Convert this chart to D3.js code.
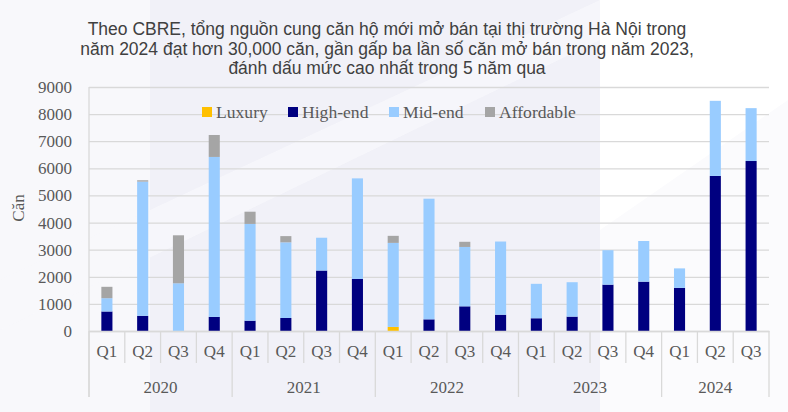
<!DOCTYPE html>
<html><head><meta charset="utf-8">
<script src="https://cdn.jsdelivr.net/npm/d3@7"></script>
<style>
html,body{margin:0;padding:0;background:#fff;}
svg{display:block;}
</style></head>
<body>
<svg id="chart" width="788" height="412"></svg>
<script>
const titleLines = [
  "Theo CBRE, tổng nguồn cung căn hộ mới mở bán tại thị trường Hà Nội trong",
  "năm 2024 đạt hơn 30,000 căn, gần gấp ba lần số căn mở bán trong năm 2023,",
  "đánh dấu mức cao nhất trong 5 năm qua"
];
const years = ["2020","2021","2022","2023","2024"];
const quarters = ["Q1","Q2","Q3","Q4","Q1","Q2","Q3","Q4","Q1","Q2","Q3","Q4","Q1","Q2","Q3","Q4","Q1","Q2","Q3"];
const yearOf = ["2020","2020","2020","2020","2021","2021","2021","2021","2022","2022","2022","2022","2023","2023","2023","2023","2024","2024","2024"];
const seriesNames = ["Luxury","High-end","Mid-end","Affordable"];
const luxury     = [0,0,0,0, 0,0,0,0, 150,0,0,0, 0,0,0,0, 0,0,0];
const highEnd    = [720,560,0,520, 380,480,2230,1920, 0,430,910,600, 470,530,1710,1820, 1590,5720,6270];
const midEnd     = [490,4950,1760,5900, 3570,2790,1210,3710, 3100,4450,2190,2700, 1270,1270,1270,1500, 720,2770,1950];
const affordable = [420,50,1770,810, 450,230,0,0, 260,0,190,0, 0,0,0,0, 0,0,0];
const yTicks = [0,1000,2000,3000,4000,5000,6000,7000,8000,9000];
const colors = ["#FFC000","#000080","#99CCFF","#A5A5A5"];

(function(){
const svg = d3.select("#chart");
const W = 788, H = 412;
const pL = 89, pR = 769, pT = 87, pB = 331;
const serif = "'Liberation Serif', 'Times New Roman', serif";
const textColor = "#595959";

// faint watermark background
const bg = svg.append("g");
bg.append("rect").attr("x",0).attr("y",0).attr("width",W).attr("height",H).attr("fill","#ffffff");
bg.append("rect").attr("x",150).attr("y",0).attr("width",450).attr("height",H).attr("fill","#f1f1f8");
bg.append("polygon").attr("points","0,0 150,0 150,412 0,412").attr("fill","#f8f8fb");
bg.append("polygon").attr("points","0,280 600,0 600,40 0,330").attr("fill","#f7f7fb").attr("opacity",0.8);
bg.append("polygon").attr("points","600,230 788,100 788,412 600,412").attr("fill","#fbfbfd");

const rows = quarters.map((q,i)=>({idx:String(i), q, year:yearOf[i],
  "Luxury":luxury[i], "High-end":highEnd[i], "Mid-end":midEnd[i], "Affordable":affordable[i]}));

const x = d3.scaleBand().domain(rows.map(d=>d.idx)).range([pL,pR]).paddingInner(0.69).paddingOuter(0.345);
const y = d3.scaleLinear().domain([0,9000]).range([pB,pT]);
const step = x.step();

const yAxis = svg.append("g").attr("transform",`translate(${pL},0)`)
  .call(d3.axisLeft(y).tickValues(yTicks).tickSize(-(pR-pL)).tickPadding(17).tickFormat(d3.format("d")));
yAxis.select(".domain").remove();
yAxis.selectAll(".tick line").attr("stroke","#d9d9d9").attr("stroke-width",1.3);
yAxis.selectAll(".tick text").attr("fill",textColor).style("font-family",serif).style("font-size","17px");

svg.append("line").attr("x1",pL).attr("x2",pL).attr("y1",pT).attr("y2",397)
  .attr("stroke","#d9d9d9").attr("stroke-width",1.3);

const stack = d3.stack().keys(seriesNames)(rows);
svg.append("g").selectAll("g").data(stack).join("g")
  .attr("fill",(d,i)=>colors[i])
  .selectAll("rect").data(d=>d).join("rect")
  .attr("x",d=>x(d.data.idx))
  .attr("width",x.bandwidth())
  .attr("y",d=>y(d[1]))
  .attr("height",d=>Math.max(0,y(d[0])-y(d[1])));

const xAxis = svg.append("g").attr("transform",`translate(0,${pB})`)
  .call(d3.axisBottom(x).tickSize(0).tickPadding(14).tickFormat((d,i)=>quarters[i]));
xAxis.select(".domain").attr("stroke","#d9d9d9").attr("stroke-width",1.5);
xAxis.selectAll(".tick text").attr("fill",textColor).style("font-family",serif).style("font-size","17px");

const sep = svg.append("g").attr("stroke","#d9d9d9").attr("stroke-width",1.3);
for (let i=0;i<=quarters.length;i++){
  const xx = pL + i*step;
  const isYear = (i===0 || i===quarters.length || yearOf[i]!==yearOf[i-1]);
  sep.append("line").attr("x1",xx).attr("x2",xx).attr("y1",pB).attr("y2",isYear?397:363);
}
years.forEach(yr=>{
  const idxs = rows.filter(r=>r.year===yr).map(r=>+r.idx);
  const cx = pL + (d3.min(idxs) + d3.max(idxs)+1)/2*step;
  svg.append("text").attr("x",cx).attr("y",393).attr("text-anchor","middle")
    .attr("fill",textColor).style("font-family",serif).style("font-size","17px").text(yr);
});

svg.append("text").attr("transform","translate(24,208) rotate(-90)").attr("text-anchor","middle")
  .attr("fill",textColor).style("font-family",serif).style("font-size","17px").text("Căn");

const legendX = [202,288,389,485];
const lg = svg.append("g");
seriesNames.forEach((s,i)=>{
  lg.append("rect").attr("x",legendX[i]).attr("y",107).attr("width",10).attr("height",10).attr("fill",colors[i]);
  lg.append("text").attr("x",legendX[i]+14).attr("y",118).attr("fill",textColor)
    .style("font-family",serif).style("font-size","17.6px").text(s);
});

svg.append("g").selectAll("text").data(titleLines).join("text")
  .attr("x",387).attr("y",(d,i)=>35+i*19.5).attr("text-anchor","middle")
  .attr("fill","#404040").style("font-family","'Liberation Sans', Arial, sans-serif").style("font-size","17.5px")
  .text(d=>d);
})();
</script>
</body></html>
